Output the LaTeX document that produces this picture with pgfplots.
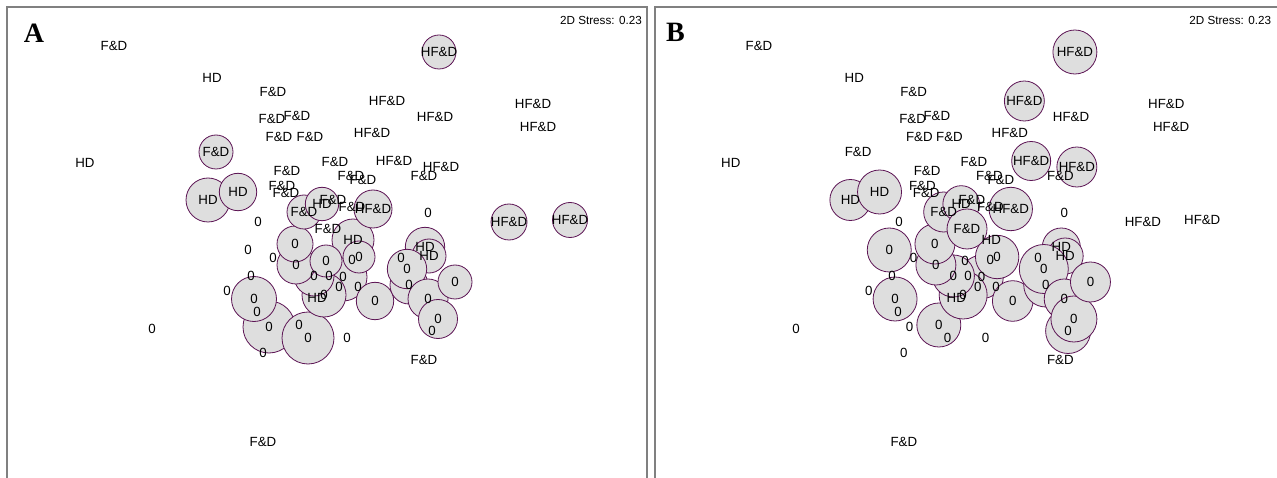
\documentclass[border=0pt]{standalone}
\usepackage{fontspec}
\setmainfont{Liberation Sans}
\newfontfamily\panelfont{Liberation Serif}
\usepackage{pgfplots}
\usepackage{pgfplotstable}
\pgfplotsset{compat=1.18}

\definecolor{bubblefill}{RGB}{222,222,222}
\definecolor{bubbleedge}{RGB}{92,20,84}
\definecolor{framegray}{RGB}{128,128,128}

% NMDS ordination of the samples (same configuration in both panels);
% rA and rB are the bubble radii (pt) of the two overlaid variables.
\pgfplotstableread{
x y lab rA rB
114 46 F\&D 0 0
212 78 HD 0 0
273 92 F\&D 0 0
272 119 F\&D 0 0
297 116 F\&D 0 0
279 137 F\&D 0 0
310 137 F\&D 0 0
85 163 HD 0 0
287 171 F\&D 0 0
282 186 F\&D 0 0
286 193 F\&D 0 0
258 222 0 0 0
333 200 F\&D 0 0
352 207 F\&D 0 0
335 162 F\&D 0 0
351 176 F\&D 0 0
363 180 F\&D 0 0
424 176 F\&D 0 0
435 117 HF\&D 0 0
372 133 HF\&D 0 0
533 104 HF\&D 0 0
538 127 HF\&D 0 0
428 213 0 0 0
273 258 0 0 0
251 276 0 0 0
227 291 0 0 0
257 312 0 0 0
263 353 0 0 0
347 338 0 0 0
317 298 HD 0 0
329 276 0 0 0
339 287 0 0 0
352 260 0 0 0
358 287 0 0 0
401 258 0 0 0
424 360 F\&D 0 0
152 329 0 0 0
263 442 F\&D 0 0
269 327 0 26 0
308 338 0 26 0
343 277 0 24 21.7
353 240 HD 21 0
254 299 0 22.5 22
299 325 0 0 22
248 250 0 0 22
208 200 HD 22 20.5
238 192 HD 18.7 22
324 295 0 22 24
314 276 0 20 21
296 265 0 19 20
295 244 0 18 20
326 261 0 16 0
359 257 0 16 21.7
375 301 0 18.7 20.3
216 152 F\&D 17 0
304 212 F\&D 17 20
322 204 HD 16.7 18.3
373 209 HF\&D 19 21.7
328 229 F\&D 0 20
394 161 HF\&D 0 19.5
441 167 HF\&D 0 20
439 52 HF\&D 17 22
387 101 HF\&D 0 20
509 222 HF\&D 18 0
570 220 HF\&D 17.5 0
425 247 HD 19.7 19
429 256 HD 17 18
409 285 0 19 22
407 269 0 19.7 24.5
428 299 0 20 20
432 331 0 0 22.5
438 319 0 19.5 23
455 282 0 17 20
}\samples

\pgfplotsset{
  nmds/.style={
    scale only axis,
    xmin=7,
    ymin=7, ymax=481,
    y dir=reverse,
    height=474pt,
    xtick=\empty, ytick=\empty,
    axis line style={framegray, line width=1.1pt},
    clip=false,
  },
  bubbles/.style={
    scatter, only marks, mark=*,
    scatter/use mapped color={draw=bubbleedge, fill=bubblefill},
    mark options={line width=0.8pt},
    visualization depends on={\thisrow{#1} \as \rad},
    scatter/@pre marker code/.append style={/tikz/mark size=\rad},
    restrict expr to domain={\thisrow{#1}}{0.5:100},
  },
  labels/.style={
    draw=none, mark=none,
    point meta=explicit symbolic,
    nodes near coords,
    nodes near coords align=center,
    every node near coord/.append style={
      font=\fontsize{13.3}{14}\selectfont, inner sep=0pt, anchor=center, text=black},
  },
}

\begin{document}
\begin{tikzpicture}[x=1pt, y=1pt]
  % Panel A
  \begin{axis}[nmds, xmax=647, width=640pt, at={(7pt,471pt)}, anchor=north west]
    \addplot[bubbles=rA] table[x=x, y=y]{\samples};
    \addplot[labels] table[x=x, y=y, meta=lab]{\samples};
    \node[anchor=east, font=\fontsize{11.7}{12}\selectfont, inner sep=0pt]
      at (axis cs:642,20) {2D Stress: 0.23};
    \node[font=\panelfont\bfseries\fontsize{28}{30}\selectfont, inner sep=0pt]
      at (axis cs:34,33) {A};
  \end{axis}
  % Panel B (same ordination, narrower frame running off the right edge)
  \begin{axis}[nmds, xmax=650, width=625pt, at={(655pt,471pt)}, anchor=north west]
    \addplot[bubbles=rB] table[x=x, y=y]{\samples};
    \addplot[labels] table[x=x, y=y, meta=lab]{\samples};
    \node[anchor=east, font=\fontsize{11.7}{12}\selectfont, inner sep=0pt]
      at (axis cs:641,20) {2D Stress: 0.23};
    \node[font=\panelfont\bfseries\fontsize{28}{30}\selectfont, inner sep=0pt]
      at (axis cs:28,32) {B};
  \end{axis}
  \pgfresetboundingbox
  \path[use as bounding box] (0,0) rectangle (1277pt,478pt);
\end{tikzpicture}
\end{document}
